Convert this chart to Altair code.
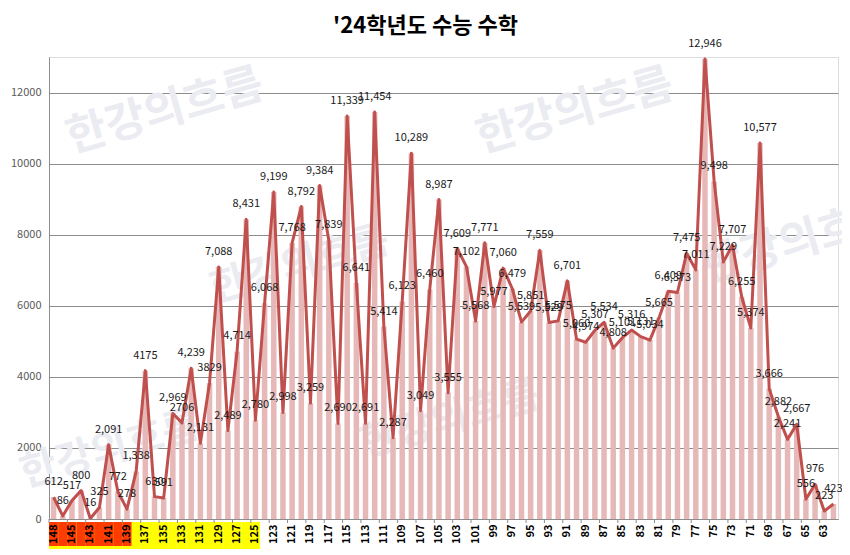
import altair as alt
import pandas as pd

# categories (standard scores), left to right
scores = [148, 147, 145, 144, 143, 142, 141, 140, 139, 138, 137, 136, 135, 134, 133, 132, 131, 130,
          129, 128, 127, 126, 125, 124, 123, 122, 121, 120, 119, 118, 117, 116, 115, 114, 113, 112,
          111, 110, 109, 108, 107, 106, 105, 104, 103, 102, 101, 100, 99, 98, 97, 96, 95, 94, 93, 92,
          91, 90, 89, 88, 87, 86, 85, 84, 83, 82, 81, 80, 79, 78, 77, 76, 75, 74, 73, 72, 71, 70, 69,
          68, 67, 66, 65, 64, 63, 62]

# number of students at each score
counts = [612, 86, 517, 800, 16, 325, 2091, 772, 278, 1338,
          4175, 630, 591, 2969, 2706, 4239, 2131, 3829, 7088, 2489,
          4714, 8431, 2780, 6068, 9199, 2998, 7768, 8792, 3259, 9384,
          7839, 2690, 11339, 6641, 2691, 11454, 5414, 2287, 6123, 10289,
          3049, 6460, 8987, 3555, 7609, 7102, 5568, 7771, 5977, 7060,
          6479, 5539, 5851, 7559, 5529, 5575, 6701, 5060, 4974, 5307,
          5534, 4808, 5101, 5316, 5131, 5034, 5665, 6409, 6373, 7475,
          7011, 12946, 9498, 7229, 7707, 6255, 5374, 10577, 3666, 2882,
          2241, 2667, 556, 976, 223, 423]

# labels written without thousands separator in the original
plain_label_scores = [137, 133, 130]

# axis tick labels shown
tick_labels = [148, 145, 143, 141, 139, 137, 135, 133, 131, 129, 127, 125, 123, 121, 119, 117, 115,
               113, 111, 109, 107, 105, 103, 101, 99, 97, 95, 93, 91, 89, 87, 85, 83, 81, 79, 77,
               75, 73, 71, 69, 67, 65, 63]
y_ticks = [0, 2000, 4000, 6000, 8000, 10000, 12000]

# highlighted label ranges
red_scores = [148, 147, 145, 144, 143, 142, 141, 140, 139]
yellow_scores = [148, 147, 145, 144, 143, 142, 141, 140, 139, 138, 137, 136, 135, 134, 133, 132,
                 131, 130, 129, 128, 127, 126, 125]

df = pd.DataFrame({"score": scores, "count": counts})
df["label"] = [str(c) if s in plain_label_scores else f"{c:,}" for s, c in zip(scores, counts)]

W, H = 789, 462
FONT = "Noto Sans CJK KR"

xs = alt.Scale(domain=scores, paddingInner=0, paddingOuter=0)
ys = alt.Scale(domain=[0, 13000])

x_axis = alt.Axis(title=None, values=tick_labels, labelAngle=-90, labelFontSize=11,
                  labelFont=FONT, labelFontWeight="bold", labelColor="#000000", labelPadding=5,
                  ticks=False, domainColor="#8c8c8c", zindex=1, grid=False)
y_axis = alt.Axis(title=None, values=y_ticks, format="d", labelFontSize=11, labelFont=FONT,
                  labelColor="#595959", labelPadding=8, ticks=False, domainColor="#8c8c8c",
                  gridColor="#8c8c8c", gridWidth=1)

base = alt.Chart(df)

layers = []

# watermark
wm = [(165, 112, -16, 44), (575, 112, -16, 44), (800, 242, -16, 44),
      (300, 265, -16, 40), (450, 420, -16, 40), (110, 450, -16, 40)]
for px, py, ang, fs in wm:
    layers.append(
        alt.Chart(pd.DataFrame({"t": ["한강의흐름"]})).mark_text(
            font=FONT, fontSize=fs, fontWeight="bold", color="#ebebf2", angle=360 + ang,
            align="center", baseline="middle"
        ).encode(x=alt.value(px - 49), y=alt.value(py - 57), text="t:N")
    )

# label highlights
hl_y = H + 3
layers.append(
    alt.Chart(pd.DataFrame({"score": yellow_scores})).mark_bar(
        color="#ffff00", width=alt.RelativeBandSize(1)
    ).encode(x=alt.X("score:N", scale=xs, sort=None, axis=x_axis), y=alt.value(hl_y), y2=alt.value(H + 33))
)
layers.append(
    alt.Chart(pd.DataFrame({"score": red_scores})).mark_bar(
        color="#ff3c00", width=alt.RelativeBandSize(1)
    ).encode(x=alt.X("score:N", scale=xs, sort=None), y=alt.value(hl_y), y2=alt.value(H + 27))
)

bars = base.mark_bar(color="#e6b9b8", width=alt.RelativeBandSize(0.6)).encode(
    x=alt.X("score:N", scale=xs, sort=None, axis=x_axis),
    y=alt.Y("count:Q", scale=ys, axis=y_axis),
)
line = base.mark_line(color="#c0504d", strokeWidth=3, strokeJoin="round").encode(
    x=alt.X("score:N", scale=xs, sort=None),
    y=alt.Y("count:Q", scale=ys),
)
text = base.mark_text(font=FONT, fontSize=11, color="#1a1a1a", dy=-15, baseline="middle").encode(
    x=alt.X("score:N", scale=xs, sort=None),
    y=alt.Y("count:Q", scale=ys),
    text="label:N",
)
ticks_df = pd.DataFrame({"score": tick_labels})
tick_marks = alt.Chart(ticks_df).mark_rule(color="#8c8c8c", strokeWidth=1).encode(
    x=alt.X("score:N", scale=xs, sort=None, bandPosition=0),
    y=alt.value(H), y2=alt.value(H + 4),
)

chart = alt.layer(*layers, bars, line, text, tick_marks).properties(
    width=W, height=H,
    title=alt.TitleParams("'24학년도 수능 수학", font=FONT, fontSize=22, fontWeight="bold",
                          color="#000000", anchor="middle", dx=-18, dy=22, offset=12,
                          baseline="middle"),
    autosize=alt.AutoSizeParams(type="none"),
    padding={"left": 41, "top": 49, "right": 4, "bottom": 30},
).configure_view(stroke=None).configure(background="#ffffff")

chart.save("out.html", embed_options={"renderer": "svg", "actions": False})
